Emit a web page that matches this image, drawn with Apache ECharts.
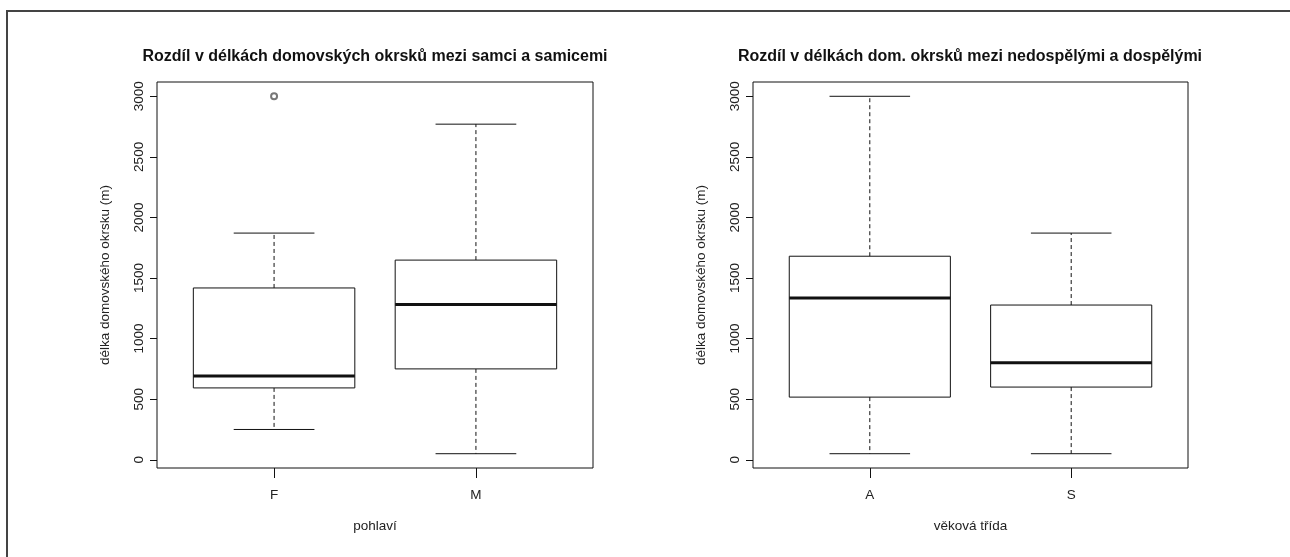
<!DOCTYPE html>
<html>
<head>
<meta charset="utf-8">
<script src="https://cdn.jsdelivr.net/npm/echarts@6/dist/echarts.min.js"></script>
<style>
  html, body { margin: 0; padding: 0; background: #fff; }
  #chart { width: 1290px; height: 557px; }
</style>
</head>
<body>
<div id="chart"></div>
<script>
// Five-number summaries: [lower whisker, Q1, median, Q3, upper whisker]
const sexCategories = ['F', 'M'];
const sexStats = [
  [250, 593, 692, 1418, 1871],
  [50, 750, 1282, 1648, 2770]
];
const sexOutliers = [[1, 3000]]; // [category position, value]

const ageCategories = ['A', 'S'];
const ageStats = [
  [50, 517, 1335, 1680, 3000],
  [50, 600, 800, 1277, 1871]
];
const ageOutliers = [];

const yTicks = [0, 500, 1000, 1500, 2000, 2500, 3000];

const titleLeft = 'Rozdíl v délkách domovských okrsků mezi samci a samicemi';
const titleRight = 'Rozdíl v délkách dom. okrsků mezi nedospělými a dospělými';
const yName = 'délka domovského okrsku (m)';
const xNameLeft = 'pohlaví';
const xNameRight = 'věková třída';

const FONT = '"Liberation Sans", Arial, sans-serif';
const INK = '#111';
const TEXT = '#222';
const LABEL_SIZE = 13.5;

function toBoxData(stats) {
  return stats.map((s, i) => [i + 1].concat(s));
}

// R-style box: dashed whiskers, solid staples, thick median
function renderBox(params, api) {
  const x = api.value(0);
  const p = k => api.coord([x, api.value(k)]);
  const [cx, yMin] = p(1);
  const yQ1 = p(2)[1], yMed = p(3)[1], yQ3 = p(4)[1], yMax = p(5)[1];
  const halfW = api.size([0.8, 0])[0] / 2;
  const capHalf = halfW / 2;
  const solid = { stroke: INK, lineWidth: 1, fill: null };
  const dashed = { stroke: INK, lineWidth: 1, lineDash: [4, 3], fill: null };
  return {
    type: 'group',
    children: [
      { type: 'line', shape: { x1: cx, y1: yQ3, x2: cx, y2: yMax }, style: dashed },
      { type: 'line', shape: { x1: cx, y1: yQ1, x2: cx, y2: yMin }, style: dashed },
      { type: 'line', shape: { x1: cx - capHalf, y1: yMax, x2: cx + capHalf, y2: yMax }, style: solid },
      { type: 'line', shape: { x1: cx - capHalf, y1: yMin, x2: cx + capHalf, y2: yMin }, style: solid },
      { type: 'rect', shape: { x: cx - halfW, y: yQ3, width: halfW * 2, height: yQ1 - yQ3 }, style: { stroke: INK, lineWidth: 1, fill: '#fff' } },
      { type: 'line', shape: { x1: cx - halfW, y1: yMed, x2: cx + halfW, y2: yMed }, style: { stroke: INK, lineWidth: 3 } }
    ]
  };
}

function xAxisFor(cats, gridIndex, name) {
  return {
    type: 'value', gridIndex: gridIndex, min: 0.42, max: 2.58,
    name: name, nameLocation: 'middle', nameGap: 51,
    nameTextStyle: { fontFamily: FONT, fontSize: LABEL_SIZE, color: TEXT },
    axisLine: { show: false, onZero: false },
    splitLine: { show: false },
    axisTick: { show: true, length: 10, customValues: [1, 2], lineStyle: { color: INK } },
    axisLabel: {
      customValues: [1, 2], margin: 20,
      formatter: v => cats[Math.round(v) - 1] || '',
      fontFamily: FONT, fontSize: LABEL_SIZE, color: TEXT
    }
  };
}

function yAxisFor(gridIndex) {
  return {
    type: 'value', gridIndex: gridIndex, min: -68, max: 3118,
    name: yName, nameLocation: 'middle', nameGap: 45, nameRotate: 90,
    nameTextStyle: { fontFamily: FONT, fontSize: LABEL_SIZE, color: TEXT },
    axisLine: { show: false, onZero: false },
    splitLine: { show: false },
    axisTick: { show: true, length: 7, customValues: yTicks, lineStyle: { color: INK } },
    axisLabel: {
      customValues: yTicks, rotate: 90, margin: 11,
      formatter: v => String(v),
      fontFamily: FONT, fontSize: LABEL_SIZE, color: TEXT
    }
  };
}

const chart = echarts.init(document.getElementById('chart'), null, { renderer: 'canvas' });
chart.setOption({
  backgroundColor: '#fff',
  animation: false,
  title: [
    { text: titleLeft, left: 375, top: 49, textAlign: 'center', padding: 0,
      textStyle: { fontFamily: FONT, fontSize: 16, fontWeight: 'bold', color: '#111' } },
    { text: titleRight, left: 970, top: 49, textAlign: 'center', padding: 0,
      textStyle: { fontFamily: FONT, fontSize: 16, fontWeight: 'bold', color: '#111' } }
  ],
  grid: [
    { left: 157, width: 436, top: 82, height: 386, show: true, borderColor: INK, borderWidth: 1, backgroundColor: 'transparent' },
    { left: 753, width: 435, top: 82, height: 386, show: true, borderColor: INK, borderWidth: 1, backgroundColor: 'transparent' }
  ],
  xAxis: [xAxisFor(sexCategories, 0, xNameLeft), xAxisFor(ageCategories, 1, xNameRight)],
  yAxis: [yAxisFor(0), yAxisFor(1)],
  graphic: [
    { type: 'polyline', shape: { points: [[7, 557], [7, 11], [1290, 11]] },
      style: { stroke: '#444', lineWidth: 2, fill: null }, silent: true }
  ],
  series: [
    { type: 'custom', xAxisIndex: 0, yAxisIndex: 0, renderItem: renderBox, data: toBoxData(sexStats),
      encode: { x: 0, y: [1, 2, 3, 4, 5] } },
    { type: 'scatter', xAxisIndex: 0, yAxisIndex: 0, data: sexOutliers, symbol: 'emptyCircle', symbolSize: 6,
      itemStyle: { color: '#555', borderColor: '#555', borderWidth: 1 } },
    { type: 'custom', xAxisIndex: 1, yAxisIndex: 1, renderItem: renderBox, data: toBoxData(ageStats),
      encode: { x: 0, y: [1, 2, 3, 4, 5] } },
    { type: 'scatter', xAxisIndex: 1, yAxisIndex: 1, data: ageOutliers, symbol: 'emptyCircle', symbolSize: 6,
      itemStyle: { color: '#555', borderColor: '#555', borderWidth: 1 } }
  ]
});
</script>
</body>
</html>
